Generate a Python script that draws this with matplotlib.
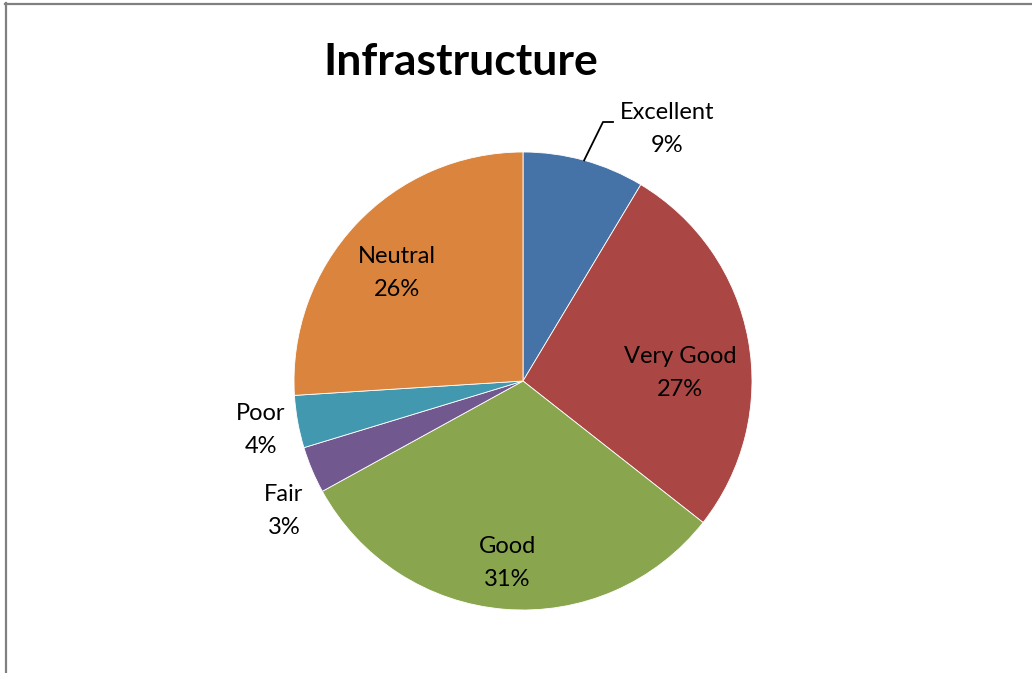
import numpy as np
import matplotlib
matplotlib.use("Agg")
import matplotlib.pyplot as plt

categories = ["Excellent", "Very Good", "Good", "Fair", "Poor", "Neutral"]
values = [8.6, 27.0, 31.4, 3.3, 3.7, 26.0]
colors = ["#4572A7", "#AA4643", "#89A54E", "#71588F", "#4198AF", "#DB843D"]
title = "Infrastructure"

W, H = 1032, 673
fig = plt.figure(figsize=(W / 100, H / 100), dpi=100)
ax = fig.add_axes([0, 0, 1, 1])

cx, cy, r = 523, H - 381, 229
wedges, _ = ax.pie(values, colors=colors, startangle=90, counterclock=False,
                   center=(cx, cy), radius=r, frame=True,
                   wedgeprops=dict(edgecolor="white", linewidth=0.6))
ax.set_xlim(0, W)
ax.set_ylim(0, H)
ax.set_aspect("equal")
ax.axis("off")

font = "Lato"
total = sum(values)
# label positions (pixel coords, y down)
label_pos = {
    "Excellent": (667, 129),
    "Very Good": (680, 373),
    "Good": (507, 563),
    "Fair": (284, 511),
    "Poor": (261, 430),
    "Neutral": (397, 273),
}
for cat, v in zip(categories, values):
    x, y = label_pos[cat]
    pct = round(v / total * 100)
    ax.text(x, H - y, f"{cat}\n{pct}%", ha="center", va="center",
            fontsize=17, family=font, linespacing=1.65, color="black")

# leader line for Excellent
mid = 90 - (values[0] / total * 360) / 2
sx = cx + r * np.cos(np.radians(mid))
sy = cy + r * np.sin(np.radians(mid))
ax.plot([sx, 603, 613], [sy, H - 122, H - 122], color="black", lw=1.3)

ax.text(461, H - 62, title, ha="center", va="center", fontsize=32,
        fontweight="bold", family=font)

# border
fig.add_artist(plt.Line2D([5 / W, 1], [1 - 3.5 / H, 1 - 3.5 / H],
                          color="#808080", lw=1.6, transform=fig.transFigure))
fig.add_artist(plt.Line2D([5.5 / W, 5.5 / W], [0, 1 - 3 / H],
                          color="#808080", lw=1.6, transform=fig.transFigure))

fig.savefig("out.png", dpi=100)
